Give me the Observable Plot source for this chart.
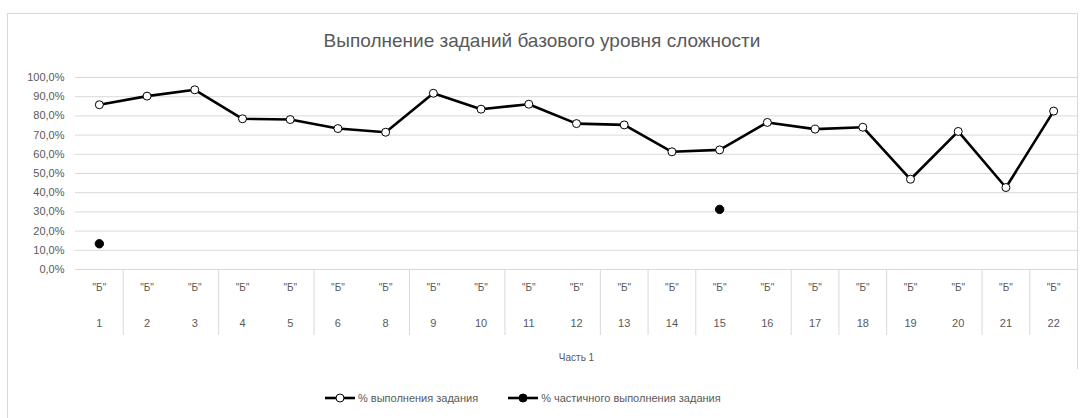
<!DOCTYPE html>
<html><head><meta charset="utf-8">
<script src="https://cdn.jsdelivr.net/npm/d3@7"></script>
<script src="https://cdn.jsdelivr.net/npm/@observablehq/plot@0.6"></script>
<style>
body{margin:0;background:#fff;font-family:"Liberation Sans",Arial,sans-serif;}
#wrap{position:relative;width:1081px;height:418px;overflow:hidden;background:#fff;}
#frame{position:absolute;left:7px;top:13px;width:1070px;height:420px;border-left:1px solid #d9d9d9;border-top:1px solid #d9d9d9;}
#rborder{position:absolute;left:1077px;top:13px;height:356px;border-left:1px solid #d9d9d9;}
#title{position:absolute;top:29px;left:7px;width:1070px;text-align:center;font-size:19px;color:#595959;line-height:24px;}
#chart{position:absolute;left:0;top:60px;}
#legend{position:absolute;top:392px;left:325px;font-size:11px;color:#595959;display:flex;align-items:center;white-space:nowrap;}
#legend .item{display:flex;align-items:center;}
#legend svg{margin-right:3px;}
</style></head>
<body>
<div id="wrap">
  <div id="frame"></div>
  <div id="rborder"></div>
  <div id="title"></div>
  <div id="chart"></div>
  <div id="legend"></div>
</div>
<script>
const titleText = "Выполнение заданий базового уровня сложности";
const tasks = ["1","2","3","4","5","6","8","9","10","11","12","13","14","15","16","17","18","19","20","21","22"];
const levelLabel = "\"Б\"";
const partLabel = "Часть 1";
const completion = [85.8,90.3,93.6,78.5,78.1,73.4,71.5,91.8,83.5,86.1,76.0,75.3,61.3,62.3,76.6,73.1,74.1,47.0,71.9,42.7,82.5];
const partial = [13.4,null,null,null,null,null,null,null,null,null,null,null,null,31.3,null,null,null,null,null,null,null];
const groupEnds = ["1","3","5","8","10","12","13","14","16","17","18","20","21"];
const yTicks = [0,10,20,30,40,50,60,70,80,90,100];
const seriesNames = ["% выполнения задания","% частичного выполнения задания"];

document.getElementById("title").textContent = titleText;

const W = 1081, H = 310, mL = 75, mR = 4, mT = 17, mB = 101;
const plotH = H - mT - mB;
const step = (W - mL - mR) / tasks.length;
const sepDepth = 66;

const rows = tasks.map((t, i) => ({task: t, done: completion[i], part: partial[i]}));

const chart = Plot.plot({
  width: W, height: H,
  marginLeft: mL, marginRight: mR, marginTop: mT, marginBottom: mB,
  style: {fontFamily: "'Liberation Sans', Arial, sans-serif", color: "#595959", background: "transparent"},
  x: {type: "point", domain: tasks, padding: 0.5, round: false},
  y: {domain: [0, 100]},
  marks: [
    Plot.ruleY(yTicks, {stroke: "#d9d9d9", strokeWidth: 1}),
    Plot.ruleX(groupEnds, {x: d => d, dx: step / 2, y1: 0, y2: -sepDepth * 100 / plotH, stroke: "#d9d9d9", strokeWidth: 1}),
    Plot.axisY({ticks: yTicks, tickSize: 0, tickPadding: 11, fontSize: 11, tickFormat: d => d.toFixed(1).replace(".", ",") + "%", label: null}),
    Plot.axisX({tickSize: 0, tickPadding: 14, fontSize: 10, tickFormat: () => levelLabel, label: null}),
    Plot.axisX({tickSize: 0, tickPadding: 50, fontSize: 11, label: null}),
    Plot.text([partLabel], {frameAnchor: "bottom", dy: 88, lineAnchor: "middle", fontSize: 10, fill: "#595959"}),
    Plot.line(rows, {x: "task", y: "done", stroke: "#000", strokeWidth: 2.6}),
    Plot.line(rows, {x: "task", y: "part", stroke: "#000", strokeWidth: 2.6}),
    Plot.dot(rows, {x: "task", y: "done", r: 4, fill: "#fff", stroke: "#000", strokeWidth: 1}),
    Plot.dot(rows, {x: "task", y: "part", r: 4.2, fill: "#000", stroke: "#000", strokeWidth: 1})
  ]
});
document.getElementById("chart").appendChild(chart);

const legend = document.getElementById("legend");
seriesNames.forEach((name, i) => {
  const item = document.createElement("div");
  item.className = "item";
  if (i > 0) item.style.marginLeft = "30px";
  item.innerHTML = `<svg width="30" height="12"><line x1="0" x2="30" y1="6" y2="6" stroke="#000" stroke-width="2.6"/><circle cx="15" cy="6" r="4" fill="${i === 0 ? "#fff" : "#000"}" stroke="#000" stroke-width="1"/></svg><span></span>`;
  item.querySelector("span").textContent = name;
  legend.appendChild(item);
});
</script>
</body></html>
